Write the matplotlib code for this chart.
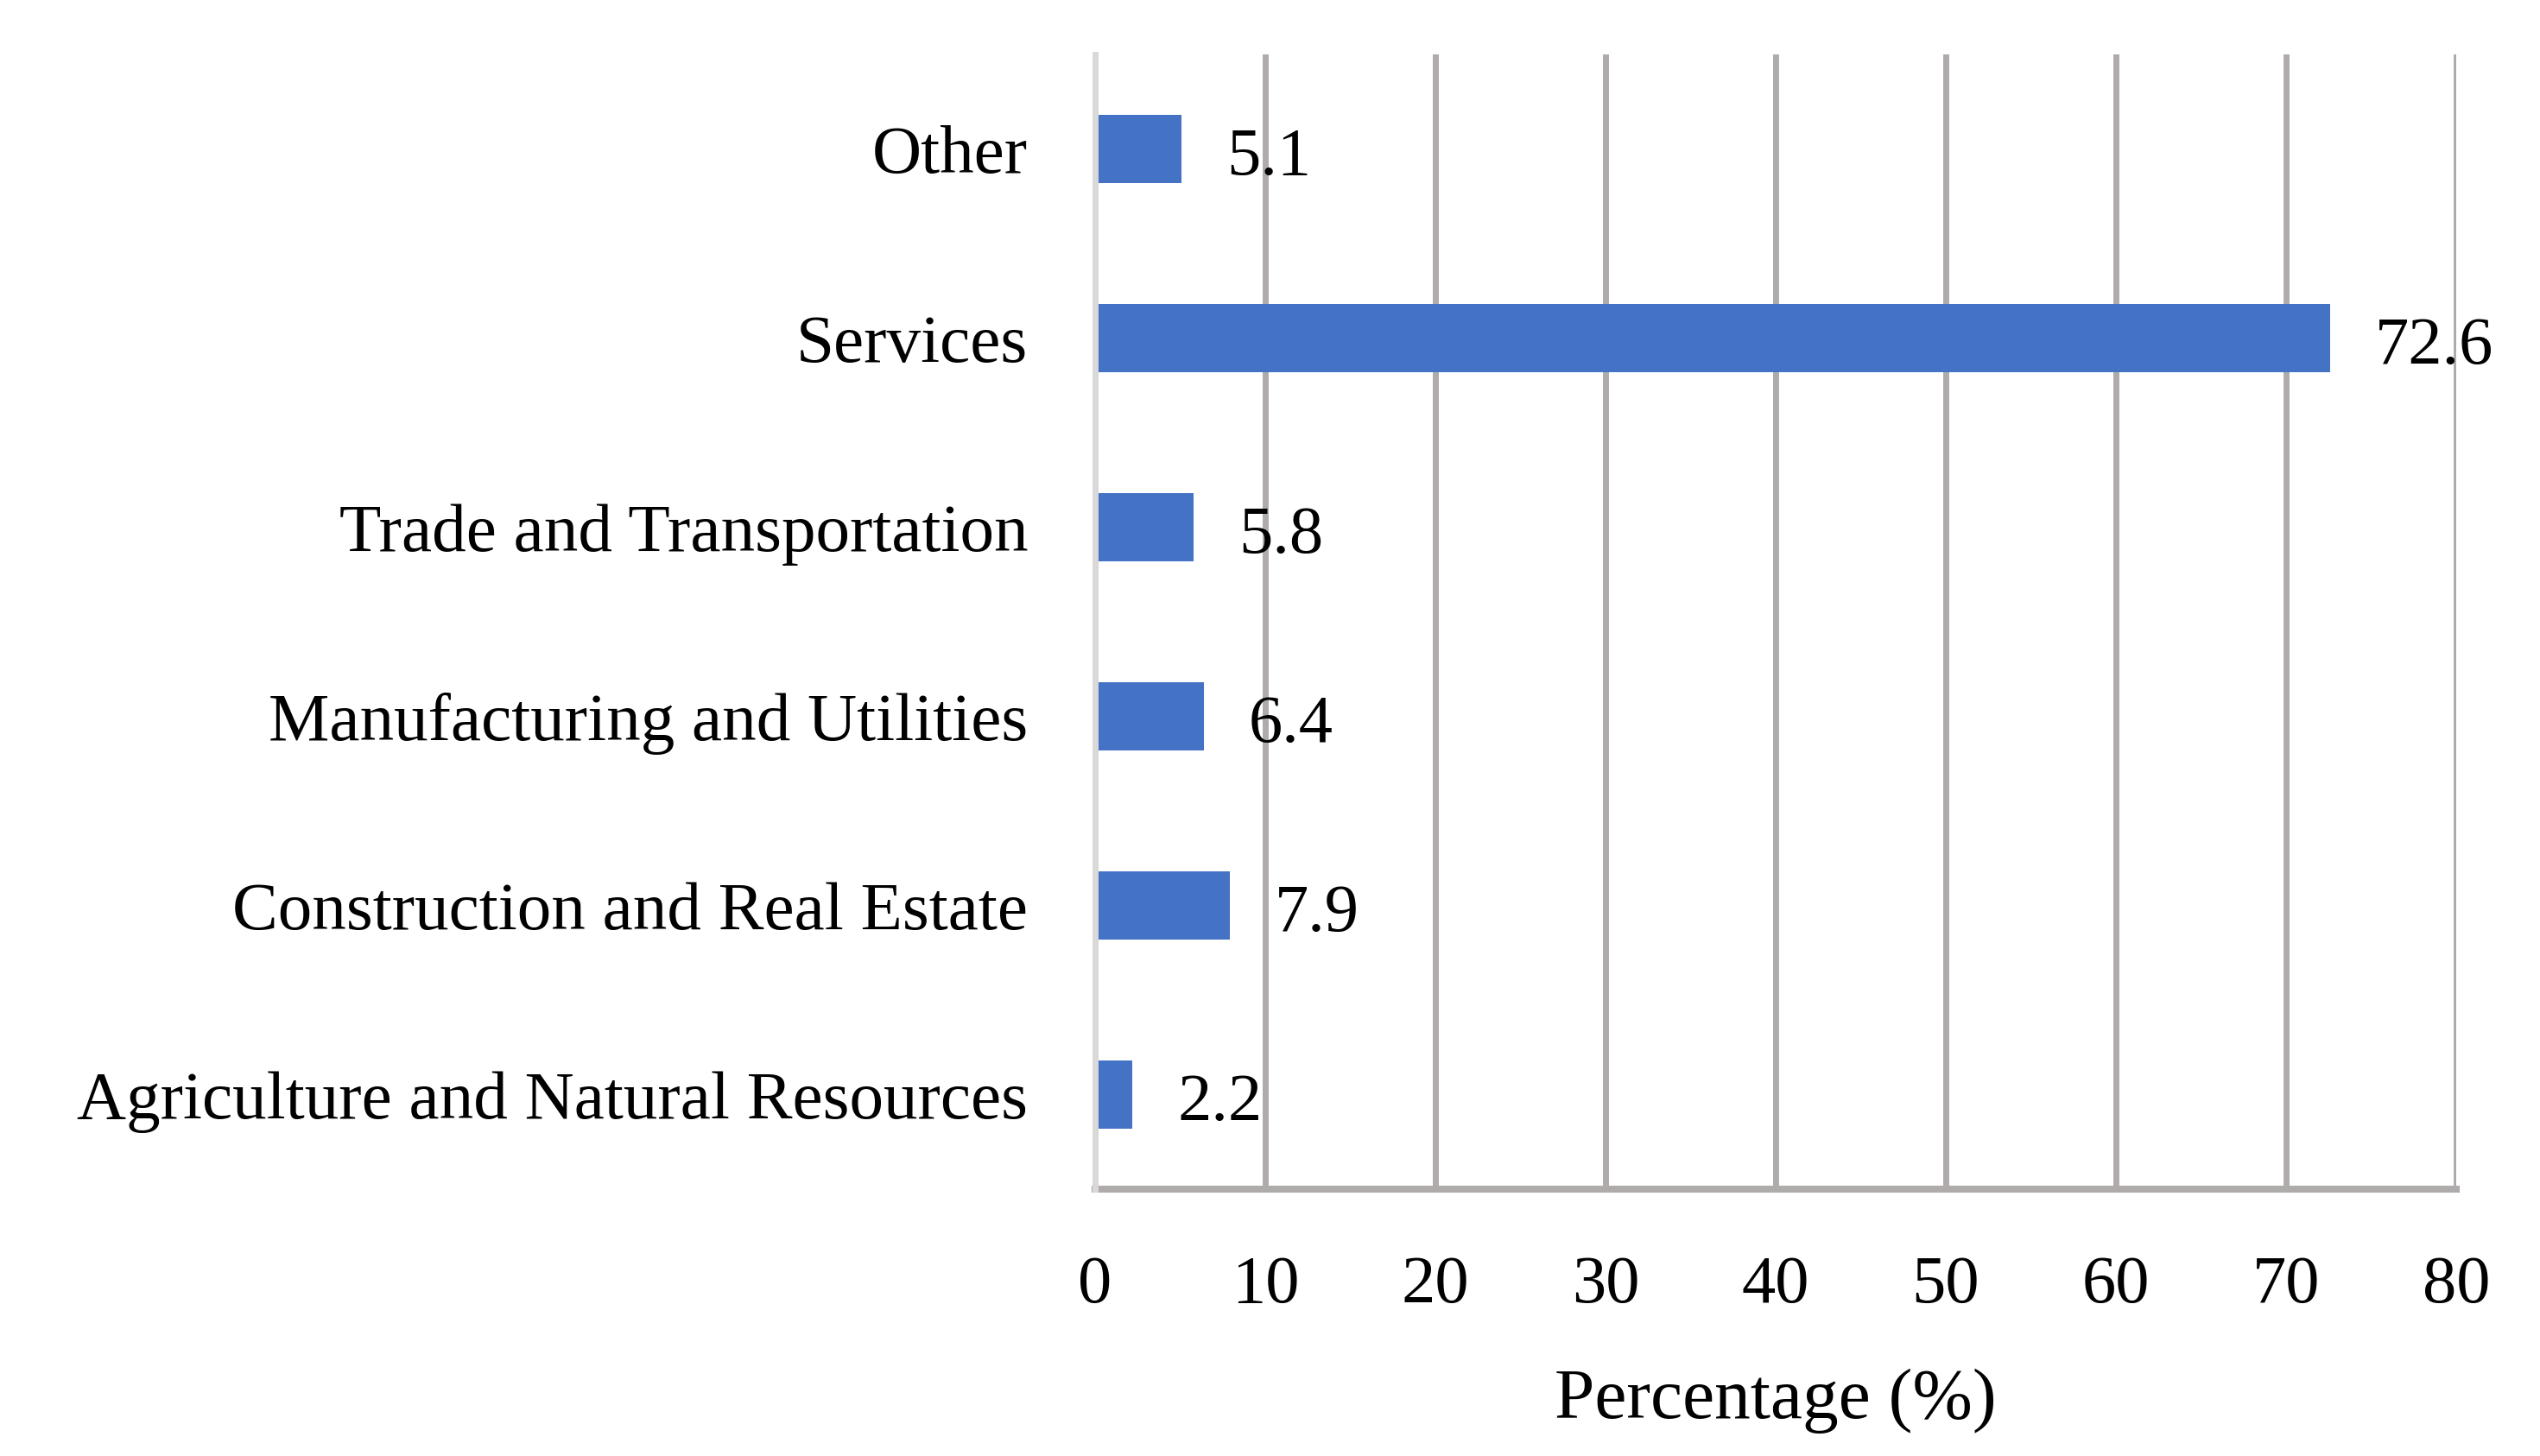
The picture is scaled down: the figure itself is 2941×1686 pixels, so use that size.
import matplotlib
matplotlib.use("Agg")
import matplotlib.pyplot as plt

categories = ["Agriculture and Natural Resources", "Construction and Real Estate",
              "Manufacturing and Utilities", "Trade and Transportation",
              "Services", "Other"]
values = [2.2, 7.9, 6.4, 5.8, 72.6, 5.1]
xticks = [0, 10, 20, 30, 40, 50, 60, 70, 80]

plt.rcParams['font.family'] = ['Liberation Serif', 'DejaVu Serif']

W, H = 2941, 1686
dpi = 100
fig = plt.figure(figsize=(W / dpi, H / dpi), dpi=dpi)
L, R, T, B = 1268, 2844, 63, 1377
ax = fig.add_axes([L / W, 1 - B / H, (R - L) / W, (B - T) / H])

ypos = list(range(len(categories)))
ax.barh(ypos, values, height=0.36, color="#4472C4", zorder=2)

ax.set_xlim(0, 80)
ax.set_ylim(-0.5, len(categories) - 0.5)
ax.set_xticks(xticks)
ax.set_xticklabels([str(t) for t in xticks])
ax.set_yticks(ypos)
ax.set_yticklabels(categories)

ax.grid(axis='x', color="#AFABAB", linewidth=5.0, zorder=0)
ax.set_axisbelow(True)

for s in ['top', 'right']:
    ax.spines[s].set_visible(False)
ax.spines['left'].set_color("#D9D9D9")
ax.spines['left'].set_linewidth(5.0)
ax.spines['left'].set_zorder(3)
ax.spines['bottom'].set_color("#AFABAB")
ax.spines['bottom'].set_linewidth(5.8)

ax.tick_params(axis='x', length=0, pad=55, labelsize=56.5, colors='black')
ax.tick_params(axis='y', length=0, pad=56, labelsize=57, colors='black')

for y, v in zip(ypos, values):
    ax.annotate(f"{v:.1f}", xy=(v, y), xytext=(37.4, -21.2), textcoords='offset points',
                ha='left', va='baseline', fontsize=56.5, color='black')

ax.set_xlabel("Percentage (%)", fontsize=60)
ax.xaxis.label.set_va('baseline')
ax.xaxis.set_label_coords(0.5, (B - 1642) / (B - T))

fig.savefig("out.png", dpi=dpi)
